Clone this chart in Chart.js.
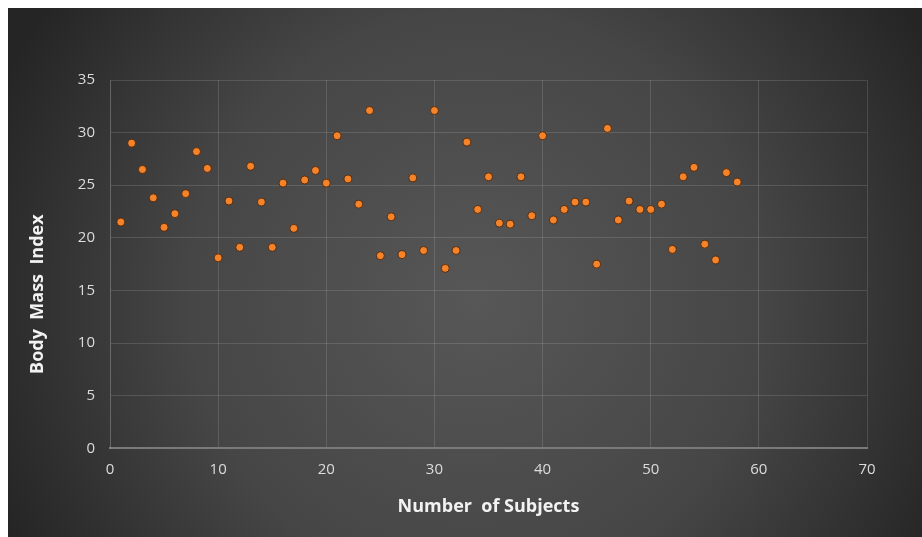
<!DOCTYPE html>
<html>
<head>
<meta charset="utf-8">
<title>Body Mass Index</title>
<script src="https://cdn.jsdelivr.net/npm/chart.js@4/dist/chart.umd.min.js"></script>
<style>
  html, body { margin: 0; padding: 0; background: #fff; }
  #wrap { width: 922px; height: 537px; }
</style>
</head>
<body>
<div id="wrap"><canvas id="bmiChart" width="922" height="537"></canvas></div>
<script>
// data
var subjects = [1, 2, 3, 4, 5, 6, 7, 8, 9, 10,
  11, 12, 13, 14, 15, 16, 17, 18, 19, 20,
  21, 22, 23, 24, 25, 26, 27, 28, 29, 30,
  31, 32, 33, 34, 35, 36, 37, 38, 39, 40,
  41, 42, 43, 44, 45, 46, 47, 48, 49, 50,
  51, 52, 53, 54, 55, 56, 57, 58];
var bmi = [21.5, 29.0, 26.5, 23.8, 21.0, 22.3, 24.2, 28.2, 26.6, 18.1,
  23.5, 19.1, 26.8, 23.4, 19.1, 25.2, 20.9, 25.5, 26.4, 25.2,
  29.7, 25.6, 23.2, 32.1, 18.3, 22.0, 18.4, 25.7, 18.8, 32.1,
  17.1, 18.8, 29.1, 22.7, 25.8, 21.4, 21.3, 25.8, 22.1, 29.7,
  21.7, 22.7, 23.4, 23.4, 17.5, 30.4, 21.7, 23.5, 22.7, 22.7,
  23.2, 18.9, 25.8, 26.7, 19.4, 17.9, 26.2, 25.3];
var xTicks = [0, 10, 20, 30, 40, 50, 60, 70];
var yTicks = [0, 5, 10, 15, 20, 25, 30, 35];
var xTitle = 'Number  of Subjects';
var yTitle = 'Body  Mass  Index';

var points = subjects.map(function(s, i) { return { x: s, y: bmi[i] }; });

// dark radial backdrop with a thin white edge at top and left
var backdrop = {
  id: 'backdrop',
  beforeDraw: function(chart) {
    var c = chart.ctx, w = chart.width, h = chart.height;
    c.save();
    c.fillStyle = '#ffffff';
    c.fillRect(0, 0, w, h);
    var g = c.createRadialGradient(475, 300, 0, 475, 300, 520);
    g.addColorStop(0, '#575757');
    g.addColorStop(0.55, '#464646');
    g.addColorStop(1, '#252525');
    c.fillStyle = g;
    c.fillRect(8, 8, w - 8, h - 8);
    c.restore();
  }
};

// y axis title, sits a bit below the middle of the plot like the original
var yAxisTitle = {
  id: 'yAxisTitle',
  afterDraw: function(chart) {
    var c = chart.ctx, a = chart.chartArea;
    c.save();
    c.translate(38, (a.top + a.bottom) / 2 + 30);
    c.rotate(-Math.PI / 2);
    c.font = 'bold 18px "Open Sans"';
    c.fillStyle = '#f2f2f2';
    c.textAlign = 'center';
    c.textBaseline = 'middle';
    c.fillText(yTitle, 0, 0);
    c.restore();
  }
};

var gridCol = 'rgba(255,255,255,0.13)';
var tickFont = { family: 'Open Sans', size: 15 };

var ctx = document.getElementById('bmiChart').getContext('2d');
var chart = new Chart(ctx, {
  type: 'scatter',
  data: {
    datasets: [{
      data: points,
      backgroundColor: '#f5832a',
      borderColor: 'rgba(70,35,10,0.85)',
      borderWidth: 1,
      pointRadius: 4,
      pointHoverRadius: 4
    }]
  },
  options: {
    responsive: false,
    animation: false,
    layout: { padding: { left: 8, top: 80, right: 55, bottom: 0 } },
    plugins: {
      legend: { display: false },
      tooltip: { enabled: false }
    },
    scales: {
      x: {
        type: 'linear',
        min: xTicks[0],
        max: xTicks[xTicks.length - 1],
        afterBuildTicks: function(s) { s.ticks = xTicks.map(function(v) { return { value: v }; }); },
        afterFit: function(s) { s.height = 88.7; },
        grid: { color: gridCol, lineWidth: 1, drawTicks: false },
        border: { color: '#7a7a7a', width: 2 },
        ticks: { color: '#dcdcdc', font: tickFont, padding: 12 },
        title: {
          display: true,
          text: xTitle,
          color: '#f2f2f2',
          font: { family: 'Open Sans', size: 18, weight: 'bold' },
          padding: { top: 0, bottom: 19 }
        }
      },
      y: {
        type: 'linear',
        min: yTicks[0],
        max: yTicks[yTicks.length - 1],
        afterBuildTicks: function(s) { s.ticks = yTicks.map(function(v) { return { value: v }; }); },
        afterFit: function(s) { s.width = 102; },
        grid: { color: gridCol, lineWidth: 1, drawTicks: false },
        border: { color: gridCol, width: 1 },
        ticks: { color: '#dcdcdc', font: tickFont, padding: 15 }
      }
    }
  },
  plugins: [backdrop, yAxisTitle]
});
</script>
</body>
</html>
